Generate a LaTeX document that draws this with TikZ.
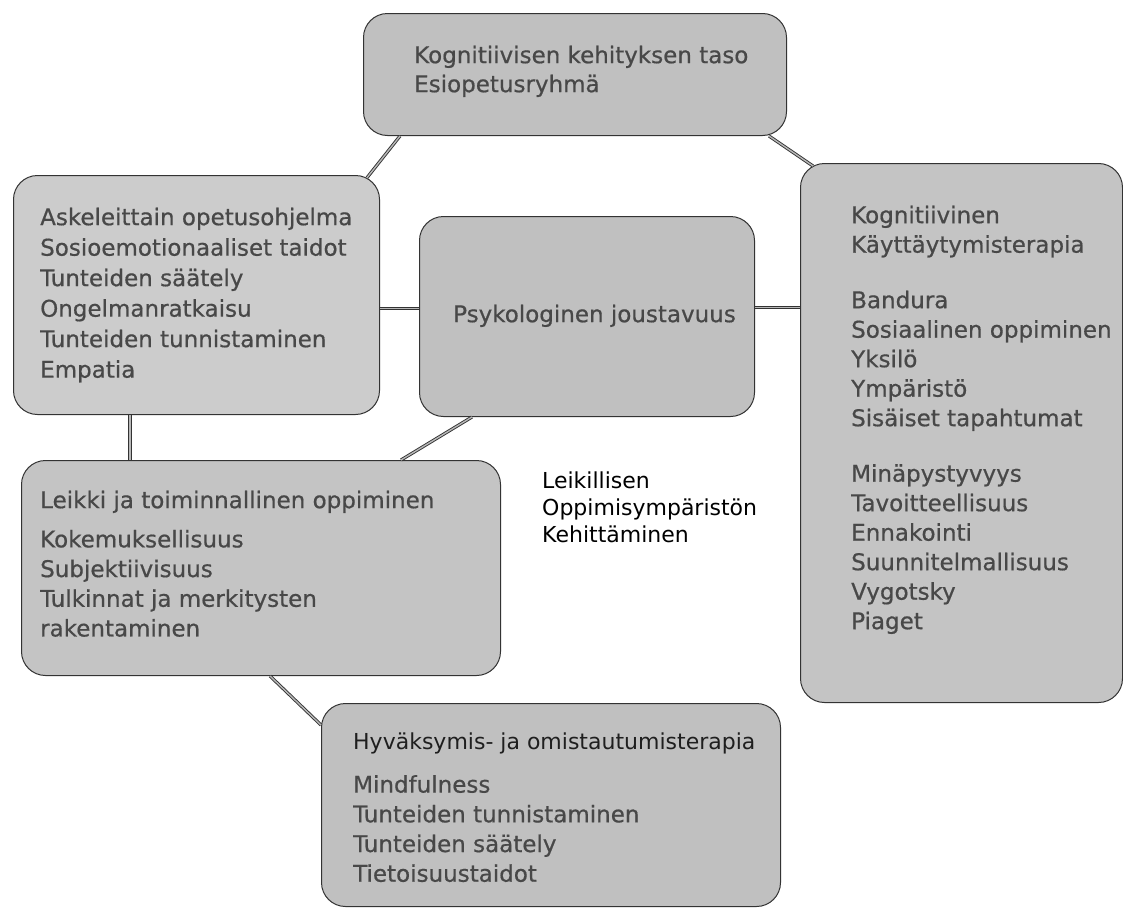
\documentclass[tikz,border=0pt]{standalone}
\usepackage{fontspec}
\setmainfont{DejaVu Sans}
\newfontfamily\boxfont{DejaVu Sans}[FakeBold=0.6]
\usetikzlibrary{calc}
\definecolor{txt}{HTML}{484848}
\definecolor{fillA}{HTML}{C0C0C0}
\definecolor{fillB}{HTML}{CCCCCC}
\definecolor{fillC}{HTML}{C4C4C4}
\definecolor{edge}{HTML}{333333}
\definecolor{linkin}{HTML}{B8B8B8}
\begin{document}
\begin{tikzpicture}[x=1bp,y=-1bp,
  box/.style={draw=edge, line width=1bp, rounded corners=24bp, fill=fillA, inner sep=0, anchor=north west},
  lbl/.style={anchor=north west, inner sep=0, align=left, text=txt, font=\boxfont\fontsize{23bp}{29.7bp}\selectfont},
  link/.style={draw=edge, line width=0.9bp, double=linkin, double distance=1.4bp}]
\useasboundingbox (0,0) rectangle (1123,908);
\fill[white] (0,0) rectangle (1123,908);

% boxes
\node[box, minimum width=423bp, minimum height=122bp] (top) at (363,13) {};
\node[box, fill=fillB, minimum width=366bp, minimum height=239bp] (left) at (13,175) {};
\node[box, minimum width=335bp, minimum height=200bp] (mid) at (419,216) {};
\node[box, fill=fillC, minimum width=322bp, minimum height=539bp] (right) at (800,163) {};
\node[box, fill=fillC, minimum width=479bp, minimum height=215bp] (leik) at (21,460) {};
\node[box, minimum width=459bp, minimum height=203bp] (hyv) at (321,703) {};

% connectors
\draw[link] ([xshift=37bp]top.south west) -- ([xshift=-13bp,yshift=-2.7bp]left.north east);
\draw[link] ([xshift=-18bp]top.south east) -- ([xshift=13bp,yshift=-3bp]right.north west);
\draw[link] ([yshift=-13.5bp]left.east) -- ([yshift=-13.5bp]left.east -| mid.west);
\draw[link] ([yshift=9bp]mid.east) -- ([yshift=9bp]mid.east -| right.west);
\draw[link] ([xshift=117bp]left.south west) -- ([xshift=117bp]left.south west |- leik.north);
\draw[link] ([xshift=53bp]mid.south west) -- ([xshift=-100bp]leik.north east);
\draw[link] ([xshift=249bp]leik.south west) -- ([yshift=-22bp]hyv.north west);

% texts
\node[lbl, font=\boxfont\fontsize{23bp}{29bp}\selectfont] (topT) at (414,45.5) {Kognitiivisen kehityksen taso\\Esiopetusryhmä};
\node[lbl, font=\boxfont\fontsize{23bp}{30.5bp}\selectfont] (leftT) at (40,207.5) {Askeleittain opetusohjelma\\Sosioemotionaaliset taidot\\Tunteiden säätely\\Ongelmanratkaisu\\Tunteiden tunnistaminen\\Empatia};
\node[lbl] (midT) at (453,304.5) {Psykologinen joustavuus};
\node[lbl, font=\boxfont\fontsize{23bp}{29.5bp}\selectfont] (rightT) at (851,205.5) {Kognitiivinen\\Käyttäytymisterapia\\[26bp]Bandura\\Sosiaalinen oppiminen\\Yksilö\\Ympäristö\\Sisäiset tapahtumat\\[26bp]Minäpystyvyys\\Tavoitteellisuus\\Ennakointi\\Suunnitelmallisuus\\Vygotsky\\Piaget};
\node[lbl] (leikT) at (40,490.5) {Leikki ja toiminnallinen oppiminen\\[9.5bp]Kokemuksellisuus\\Subjektiivisuus\\Tulkinnat ja merkitysten\\rakentaminen};
\node[lbl] (hyvT) at (353,732.5) {{\normalfont\fontsize{22bp}{29.7bp}\selectfont\color{black!88}Hyväksymis- ja omistautumisterapia}\\[13.5bp]Mindfulness\\Tunteiden tunnistaminen\\Tunteiden säätely\\Tietoisuustaidot};
\node[lbl, text=black, font=\fontsize{22bp}{27bp}\selectfont] (free) at (542,471.3) {Leikillisen\\Oppimisympäristön\\Kehittäminen};
\end{tikzpicture}
\end{document}
